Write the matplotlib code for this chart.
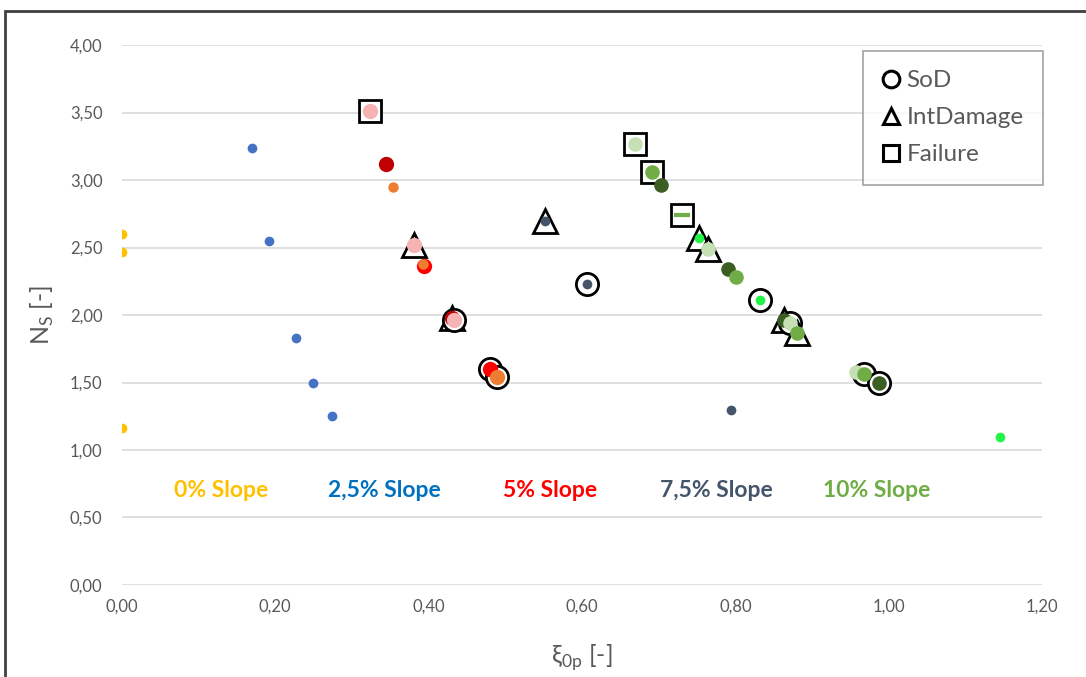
import matplotlib
matplotlib.use("Agg")
import matplotlib.pyplot as plt
from matplotlib.lines import Line2D
from matplotlib.patches import Rectangle
from matplotlib.ticker import FuncFormatter, MultipleLocator

plt.rcParams['font.family'] = ['Lato', 'DejaVu Sans']
plt.rcParams['mathtext.fontset'] = 'custom'
plt.rcParams['mathtext.rm'] = 'Lato'

GREY = '#595959'

# status codes: '' = no marker, 'SoD', 'IntDamage', 'Failure', 'dash'
slope_0_x = [0.0, 0.0, 0.0]
slope_0_y = [2.60, 2.47, 1.16]

slope_25_x = [0.169, 0.192, 0.227, 0.249, 0.274]
slope_25_y = [3.24, 2.55, 1.83, 1.50, 1.25]

slope_5_x = [0.324, 0.344, 0.354, 0.381, 0.394, 0.392, 0.431, 0.433, 0.480, 0.489]
slope_5_y = [3.51, 3.12, 2.95, 2.52, 2.36, 2.38, 1.98, 1.96, 1.60, 1.54]
slope_5_c = ['pink', 'darkred', 'orange_s', 'pink', 'red', 'orange_s', 'darkred', 'pink', 'red', 'orange']
slope_5_state = ['Failure', '', '', 'IntDamage', '', '', 'IntDamage', 'SoD', 'SoD', 'SoD']

slope_75_x = [0.552, 0.607, 0.795]
slope_75_y = [2.70, 2.23, 1.30]
slope_75_state = ['IntDamage', 'SoD', '']

slope_10_x = [0.669, 0.691, 0.703, 0.730, 0.753, 0.765, 0.790, 0.801, 0.832,
              0.863, 0.871, 0.880, 0.958, 0.968, 0.987, 1.145]
slope_10_y = [3.27, 3.06, 2.96, 2.74, 2.57, 2.49, 2.34, 2.28, 2.11,
              1.96, 1.94, 1.87, 1.58, 1.56, 1.50, 1.10]
slope_10_c = ['light', 'medium', 'dark', 'medium', 'bright', 'light', 'dark', 'medium', 'bright',
              'dark', 'light', 'medium', 'light', 'medium', 'dark', 'bright']
slope_10_state = ['Failure', 'Failure', '', 'dash', 'IntDamage', 'IntDamage', '', '', 'SoD',
                  'IntDamage', 'SoD', 'IntDamage', '', 'SoD', 'SoD', '']

slope_labels = ['0% Slope', '2,5% Slope', '5% Slope', '7,5% Slope', '10% Slope']
slope_label_x = [0.129, 0.342, 0.559, 0.775, 0.985]
slope_label_colors = ['#FFC000', '#0070C0', '#FF0000', '#44546A', '#70AD47']

colors = {
    'pink': '#F6B3B3', 'darkred': '#C00000', 'red': '#FF0000',
    'orange': '#ED7D31', 'orange_s': '#ED7D31',
    'light': '#C5E0B4', 'medium': '#70AD47', 'dark': '#3B5E22', 'bright': '#22F548',
}
dot_size = {'orange_s': 7.5}

state_marker = {'SoD': 'o', 'IntDamage': '^', 'Failure': 's'}
state_size = {'SoD': 16, 'IntDamage': 17, 'Failure': 16}

fig = plt.figure(figsize=(10.86, 6.77), dpi=100)
ax = fig.add_axes([0.1123, 0.1359, 0.8472, 0.7976])


def draw_states(xs, ys, states):
    for x, y, st in zip(xs, ys, states):
        if st in state_marker:
            ax.plot(x, y, marker=state_marker[st], ms=state_size[st], mfc='white',
                    mec='black', mew=2, ls='none', zorder=3)


def draw_dots(xs, ys, cols, default_ms=11):
    for x, y, c in zip(xs, ys, cols):
        ax.plot(x, y, 'o', ms=dot_size.get(c, default_ms), color=colors[c], mec='none', zorder=4)


# plain slopes
ax.plot(slope_0_x, slope_0_y, 'o', ms=7, color='#FFC000', mec='none', zorder=4)
ax.plot(slope_25_x, slope_25_y, 'o', ms=7, color='#4472C4', mec='none', zorder=4)

# 5% slope
draw_states(slope_5_x, slope_5_y, slope_5_state)
draw_dots(slope_5_x, slope_5_y, slope_5_c)

# 7,5% slope
draw_states(slope_75_x, slope_75_y, slope_75_state)
ax.plot(slope_75_x, slope_75_y, 'o', ms=7, color='#44546A', mec='none', zorder=4)

# 10% slope (the dash entry gets a square frame and a line marker)
state_10 = ['Failure' if s == 'dash' else s for s in slope_10_state]
draw_states(slope_10_x, slope_10_y, state_10)
for x, y, c, s in zip(slope_10_x, slope_10_y, slope_10_c, slope_10_state):
    if s == 'dash':
        ax.plot(x, y, marker='_', ms=11, mew=3, color=colors[c], ls='none', zorder=4)
    else:
        ax.plot(x, y, 'o', ms=7 if c == 'bright' else 10.5, color=colors[c], mec='none', zorder=4)

for lab, lx, lc in zip(slope_labels, slope_label_x, slope_label_colors):
    ax.text(lx, 0.70, lab, color=lc, fontsize=16.5, fontweight='bold', ha='center', va='center')

ax.set_xlim(0, 1.2)
ax.set_ylim(0, 4.0)
ax.xaxis.set_major_locator(MultipleLocator(0.2))
ax.yaxis.set_major_locator(MultipleLocator(0.5))
fmt = FuncFormatter(lambda v, p: f'{v:.2f}'.replace('.', ','))
ax.xaxis.set_major_formatter(fmt)
ax.yaxis.set_major_formatter(fmt)
ax.tick_params(length=0, labelsize=12, labelcolor=GREY)
ax.tick_params(axis='y', pad=14)
ax.tick_params(axis='x', pad=10)
ax.grid(axis='y', color='#D9D9D9', lw=1.2)
ax.set_axisbelow(True)
for sp in ax.spines.values():
    sp.set_visible(False)

ax.set_xlabel(r'ξ$_\mathregular{0p}$ [-]', fontsize=18, color=GREY, labelpad=20)
ax.set_ylabel(r'N$_\mathregular{S}$ [-]', fontsize=18, color=GREY, labelpad=10)

handles = [
    Line2D([], [], marker='o', ms=12, mfc='white', mec='black', mew=2.2, ls='none', label='SoD'),
    Line2D([], [], marker='^', ms=12, mfc='white', mec='black', mew=2.2, ls='none', label='IntDamage'),
    Line2D([], [], marker='s', ms=12, mfc='white', mec='black', mew=2.2, ls='none', label='Failure'),
]
leg = ax.legend(handles=handles, loc='upper right', bbox_to_anchor=(1043 / 1086, 1 - 51 / 677),
                bbox_transform=fig.transFigure, fontsize=17.5, frameon=True, fancybox=False,
                handlelength=0.7, handletextpad=0.3, labelspacing=0.65, borderpad=0.8,
                borderaxespad=0)
leg.get_frame().set_edgecolor('#8C8C8C')
leg.get_frame().set_linewidth(1.2)
for t in leg.get_texts():
    t.set_color(GREY)

# chart frame
fig.patches.append(Rectangle((5 / 1086, -0.05), 1.1, 1 - 11 / 677 + 0.05, transform=fig.transFigure,
                             fill=False, edgecolor='#404040', lw=2))

fig.savefig('out.png', dpi=100)
